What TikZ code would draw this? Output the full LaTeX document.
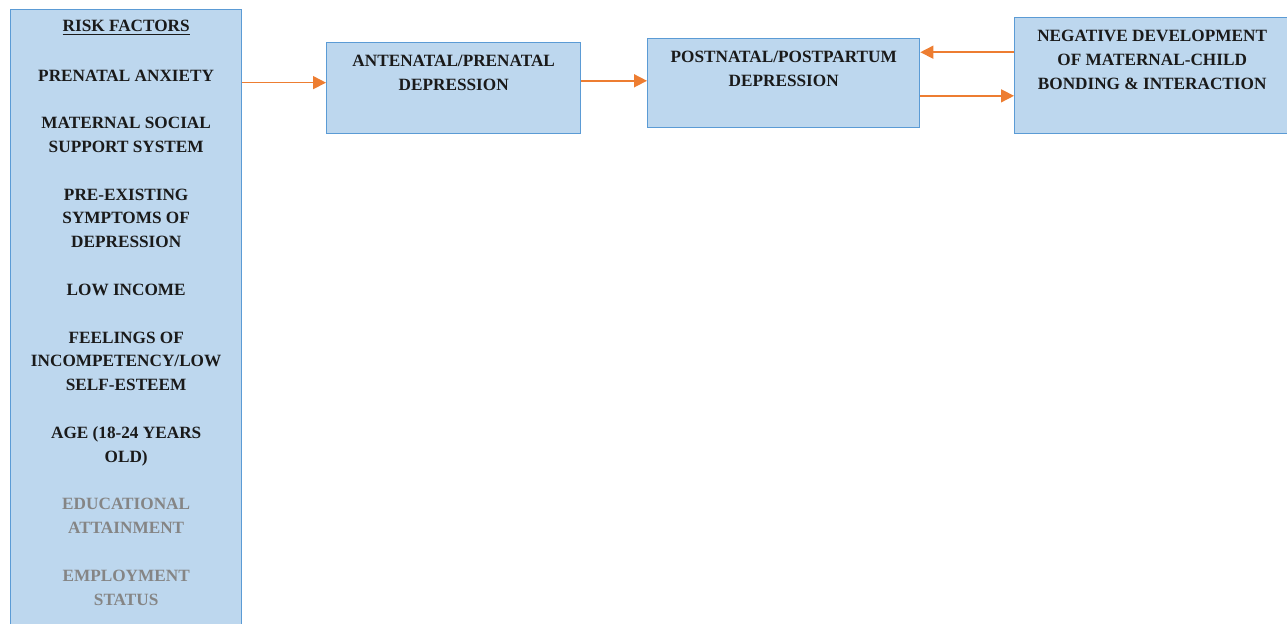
\documentclass[tikz,border=0pt]{standalone}
\usepackage{fontspec}
\setmainfont{Liberation Serif}
\usetikzlibrary{arrows.meta, positioning, calc}
\definecolor{boxfill}{HTML}{BDD7EE}
\definecolor{boxline}{HTML}{5B9BD5}
\definecolor{arrowc}{HTML}{ED7D31}
\definecolor{txtc}{HTML}{1A1A1A}
\definecolor{greytxt}{HTML}{858585}
\tikzset{
  box/.style ={draw=boxline, fill=boxfill, line width=0.8pt, inner sep=0pt},
  txt/.style ={align=center, inner sep=0pt, text=txtc,
               font=\fontsize{9.8}{13.56}\selectfont\bfseries},
  arr/.style ={-{Triangle[length=2.6mm, width=2.6mm]}, draw=arrowc, line width=0.9pt},
}

\begin{document}
\begin{tikzpicture}[x=0.02cm, y=-0.02cm]
  \useasboundingbox (0,0) rectangle (1287,624);

  % boxes
  \node[box, anchor=north west, minimum width=4.62cm, minimum height=12.62cm] (risk) at (10,9) {};
  \node[box, anchor=north west, minimum width=5.08cm, minimum height=1.82cm]  (ante) at (326,42) {};
  \node[box, anchor=north west, minimum width=5.44cm, minimum height=1.78cm]  (post) at (647,38) {};
  \node[box, anchor=north west, minimum width=5.5cm,  minimum height=2.32cm]  (neg)  at (1014,17) {};

  % texts
  \node[txt, below=0.22cm of risk.north] (riskt) {\underline{RISK FACTORS}\\[14.5pt]
    PRENATAL ANXIETY\\[13.56pt]
    MATERNAL SOCIAL\\SUPPORT SYSTEM\\[13.56pt]
    PRE-EXISTING\\SYMPTOMS OF\\DEPRESSION\\[13.56pt]
    LOW INCOME\\[13.56pt]
    FEELINGS OF\\INCOMPETENCY/LOW\\SELF-ESTEEM\\[13.56pt]
    AGE (18-24 YEARS\\OLD)\\[13.56pt]
    \textcolor{greytxt}{EDUCATIONAL}\\\textcolor{greytxt}{ATTAINMENT}\\[13.56pt]
    \textcolor{greytxt}{EMPLOYMENT}\\\textcolor{greytxt}{STATUS}};
  \node[txt, below=0.26cm of ante.north] (antet) {ANTENATAL/PRENATAL\\DEPRESSION};
  \node[txt, below=0.26cm of post.north] (postt) {POSTNATAL/POSTPARTUM\\DEPRESSION};
  \node[txt, below=0.26cm of neg.north]  (negt)  {NEGATIVE DEVELOPMENT\\OF MATERNAL-CHILD\\BONDING \& INTERACTION};

  % arrows
  \coordinate (a) at ($(ante.north west)!0.44!(ante.south west)$);
  \coordinate (b) at ($(ante.north east)!0.42!(ante.south east)$);
  \coordinate (c) at ($(neg.north west)!0.30!(neg.south west)$);
  \coordinate (d) at ($(post.north east)!0.64!(post.south east)$);
  \draw[arr] (risk.east |- a) -- (a);
  \draw[arr] (b) -- (post.west |- b);
  \draw[arr] (c) -- (post.east |- c);
  \draw[arr] (d) -- (neg.west |- d);
\end{tikzpicture}
\end{document}
